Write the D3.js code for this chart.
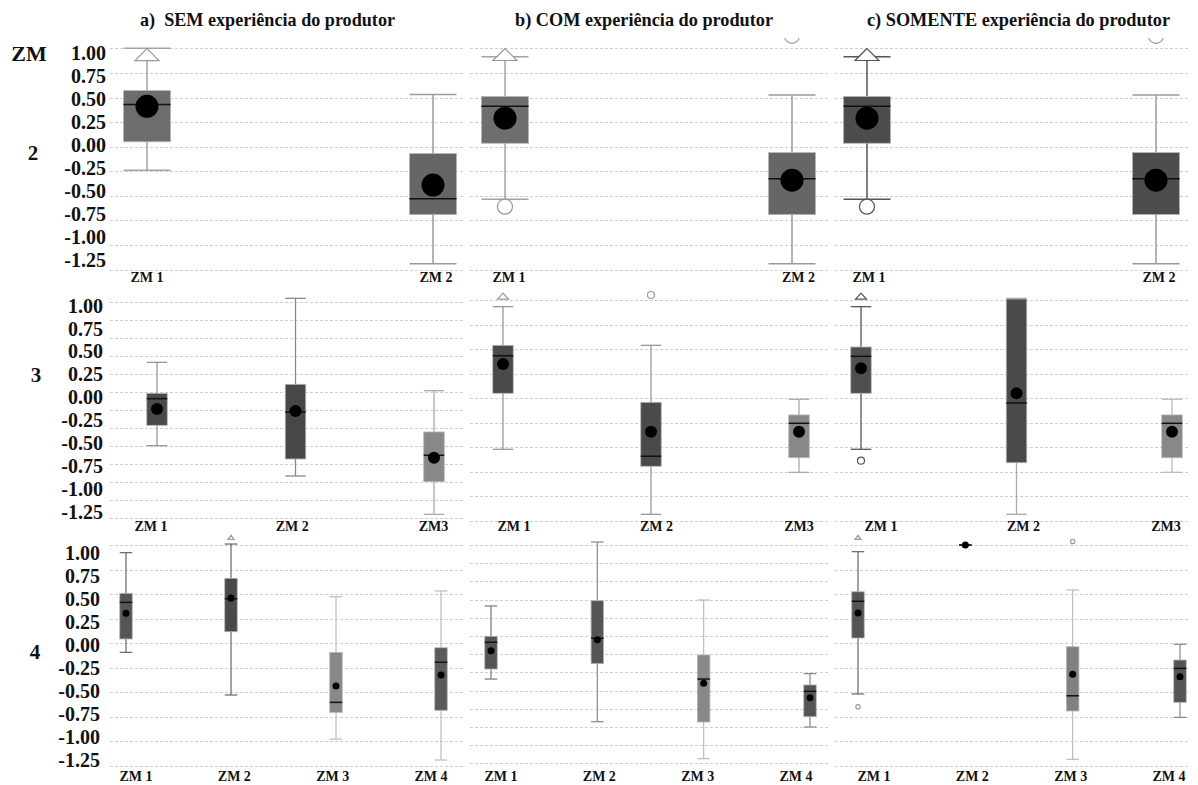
<!DOCTYPE html>
<html>
<head>
<meta charset="utf-8">
<script src="https://cdn.jsdelivr.net/npm/d3@7"></script>
<style>
  body { margin: 0; background: #ffffff; }
  svg { display: block; }
  text { font-family: "Liberation Serif", "Times New Roman", serif; font-weight: bold; fill: #111; }
  text.title { white-space: pre; }
</style>
</head>
<body>
<svg id="chart" width="1198" height="785"></svg>
<script>
// ---------------- categories and labels ----------------
const panelTitles = ["a)  SEM experiência do produtor", "b) COM experiência do produtor", "c) SOMENTE experiência do produtor"];
const rowHeader = "ZM";
const rowLabels = ["2", "3", "4"];
const yTickValues = [1.00, 0.75, 0.50, 0.25, 0.00, -0.25, -0.50, -0.75, -1.00, -1.25];
const gridQuarter = [1.00, 0.75, 0.50, 0.25, 0.00, -0.25, -0.50, -0.75, -1.00, -1.25];
const gridFifth = [1.0, 0.8, 0.6, 0.4, 0.2, 0.0, -0.2, -0.4, -0.6, -0.8, -1.0, -1.2, -1.4];
const zonesTwo = ["ZM 1", "ZM 2"];
const zonesThree = ["ZM 1", "ZM 2", "ZM3"];
const zonesFour = ["ZM 1", "ZM 2", "ZM 3", "ZM 4"];

// ---------------- box statistics ----------------
// each group: [lower whisker, Q1, median, Q3, upper whisker, mean]
const semZM2 = [[-0.24, 0.05, 0.43, 0.57, 1.00, 0.41], [-1.19, -0.69, -0.53, -0.07, 0.53, -0.39]];
const comZM2 = [[-0.535, 0.035, 0.41, 0.51, 0.915, 0.29], [-1.19, -0.69, -0.325, -0.06, 0.525, -0.34]];
const somZM2 = [[-0.535, 0.035, 0.41, 0.51, 0.915, 0.29], [-1.19, -0.69, -0.325, -0.06, 0.525, -0.34]];

const semZM3 = [[-0.593, -0.367, -0.071, -0.011, 0.333, -0.186], [-0.93, -0.741, -0.219, 0.089, 1.044, -0.208], [-1.356, -0.993, -0.70, -0.441, 0.018, -0.727]];
const comZM3 = [[-0.522, 0.049, 0.432, 0.538, 0.932, 0.348], [-1.185, -0.695, -0.593, -0.043, 0.538, -0.342], [-0.757, -0.608, -0.257, -0.172, -0.012, -0.342]];
const somZM3 = [[-0.522, 0.049, 0.426, 0.521, 0.932, 0.304], [-1.185, -0.659, -0.05, 1.01, 1.017, 0.049], [-0.757, -0.608, -0.257, -0.172, -0.012, -0.342]];

const semZM4 = [[-0.093, 0.043, 0.416, 0.508, 0.922, 0.304], [-0.527, 0.117, 0.453, 0.661, 1.01, 0.46], [-0.976, -0.704, -0.602, -0.093, 0.473, -0.436], [-1.189, -0.683, -0.194, -0.046, 0.532, -0.324]];
const comZM4 = [[-0.473, -0.363, -0.069, -0.003, 0.33, -0.162], [-0.942, -0.304, -0.025, 0.388, 1.033, -0.041], [-1.348, -0.945, -0.473, -0.209, 0.396, -0.52], [-1.0, -0.887, -0.608, -0.538, -0.414, -0.678]];
const somZM4 = [[-0.517, 0.053, 0.427, 0.524, 0.932, 0.308], [1.0, 1.0, 1.0, 1.0, 1.0, 1.0], [-1.182, -0.69, -0.535, -0.036, 0.542, -0.317], [-0.755, -0.602, -0.256, -0.171, -0.011, -0.341]];

// ---------------- outliers: [value, kind] ("extreme" = triangle, "outlier" = circle) ----------------
const semZM2Out = [[[0.935, "extreme"]], []];
const comZM2Out = [[[0.937, "extreme"], [-0.61, "outlier"]], [[1.127, "outlier"]]];
const somZM2Out = [[[0.937, "extreme"], [-0.61, "outlier"]], [[1.127, "outlier"]]];
const semZM3Out = [[], [], []];
const comZM3Out = [[[1.04, "extreme"]], [[1.051, "outlier"]], []];
const somZM3Out = [[[1.04, "extreme"], [-0.638, "outlier"]], [], []];
const semZM4Out = [[], [[1.078, "extreme"]], [], []];
const comZM4Out = [[], [], [], []];
const somZM4Out = [[[1.078, "extreme"], [-0.647, "outlier"]], [], [[1.036, "outlier"]], []];

// ---------------- styles ----------------
const boxFills = [
  [["#6d6d6d", "#666666"], ["#6e6e6e", "#666666"], ["#4d4d4d", "#4d4d4d"]],
  [["#4a4a4a", "#474747", "#888888"], ["#4a4a4a", "#4a4a4a", "#888888"], ["#4f4f4f", "#4a4a4a", "#888888"]],
  [["#555555", "#4a4a4a", "#888888", "#5a5a5a"], ["#555555", "#555555", "#888888", "#555555"], ["#555555", "#555555", "#808080", "#555555"]]
];
const whiskerColors = [
  [["#a3a3a3", "#9a9a9a"], ["#a3a3a3", "#9a9a9a"], ["#555555", "#9a9a9a"]],
  [["#999999", "#888888", "#aaaaaa"], ["#999999", "#999999", "#aaaaaa"], ["#555555", "#aaaaaa", "#bbbbbb"]],
  [["#666666", "#666666", "#bbbbbb", "#bbbbbb"], ["#777777", "#888888", "#bbbbbb", "#888888"], ["#666666", "#666666", "#bbbbbb", "#888888"]]
];

// ---------------- layout ----------------
const panelSpans = [[110, 465], [470, 830], [835, 1190]];
const titleCenters = [267.5, 644, 1018.5];
const titleWidths = [255, 258, 303];
const rowsLayout = [
  { clipTop: 38, clipBottom: 272, labelRange: [53, 260], labelRight: 106, xLabelY: 282, rowLabelY: 153, rowLabelX: 33,
    boxW: 47, meanR: 11.5, triW: 24, triH: 12, circR: 7.5, lw: 1.5,
    pointRanges: [[147, 433], [505, 792], [867, 1156]],
    labelRanges: [[147, 436], [509, 798.5], [869, 1159]],
    grids: [[gridQuarter, [48.3, 269.7]], [gridQuarter, [48.3, 269.7]], [gridQuarter, [48.3, 269.7]]] },
  { clipTop: 288, clipBottom: 520, labelRange: [305.7, 511.7], labelRight: 103, xLabelY: 531, rowLabelY: 375, rowLabelX: 36,
    boxW: 20.5, meanR: 6, triW: 11, triH: 6, circR: 3.5, lw: 1.3,
    pointRanges: [[157, 434], [503, 799], [861, 1172]],
    labelRanges: [[151, 433.5], [514, 799], [881, 1166]],
    grids: [[gridFifth, [302.3, 518.3]], [gridQuarter, [300, 520.7]], [gridQuarter, [300, 520.7]]] },
  { clipTop: 534, clipBottom: 768, labelRange: [552.7, 760], labelRight: 100, xLabelY: 781, rowLabelY: 652, rowLabelX: 35,
    boxW: 12.5, meanR: 3.5, triW: 6, triH: 4, circR: 2.2, lw: 1.2,
    pointRanges: [[126, 441], [491, 810], [858, 1180]],
    labelRanges: [[136, 431], [501, 796], [874, 1169]],
    grids: [[gridQuarter, [545, 766]], [gridFifth, [545, 763.4]], [gridQuarter, [545, 766]]] }
];

const rowCategories = [zonesTwo, zonesThree, zonesFour];
const panelStats = [[semZM2, comZM2, somZM2], [semZM3, comZM3, somZM3], [semZM4, comZM4, somZM4]];
const panelOutliers = [[semZM2Out, comZM2Out, somZM2Out], [semZM3Out, comZM3Out, somZM3Out], [semZM4Out, comZM4Out, somZM4Out]];

const svg = d3.select("#chart");
const defs = svg.append("defs");

// panel titles
svg.selectAll("text.title").data(panelTitles).join("text")
  .attr("class", "title")
  .attr("x", (d, i) => titleCenters[i])
  .attr("y", 26)
  .attr("text-anchor", "middle")
  .attr("textLength", (d, i) => titleWidths[i])
  .attr("lengthAdjust", "spacingAndGlyphs")
  .style("font-size", "19px")
  .text(d => d);

svg.append("text")
  .attr("x", 29).attr("y", 53.5)
  .attr("text-anchor", "middle").attr("dominant-baseline", "central")
  .style("font-size", "22px")
  .text(rowHeader);

function trianglePath(cx, cy, w, h) {
  const p = d3.path();
  p.moveTo(cx, cy - h / 2);
  p.lineTo(cx - w / 2, cy + h / 2);
  p.lineTo(cx + w / 2, cy + h / 2);
  p.closePath();
  return p.toString();
}

rowsLayout.forEach((L, r) => {
  // row label
  svg.append("text")
    .attr("x", L.rowLabelX).attr("y", L.rowLabelY)
    .attr("text-anchor", "middle").attr("dominant-baseline", "central")
    .style("font-size", "21px")
    .text(rowLabels[r]);

  // value labels on the left
  const labelScale = d3.scaleLinear().domain([1, -1.25]).range(L.labelRange);
  svg.append("g").selectAll("text").data(yTickValues).join("text")
    .attr("x", L.labelRight)
    .attr("y", d => labelScale(d))
    .attr("text-anchor", "end").attr("dominant-baseline", "central")
    .style("font-size", "20px")
    .text(d => d3.format(".2f")(d).replace("−", "-"));

  panelSpans.forEach((span, p) => {
    const [gridValues, gridRange] = L.grids[p];
    const y = d3.scaleLinear().domain([gridValues[0], gridValues[gridValues.length - 1]]).range(gridRange);
    const x = d3.scalePoint().domain(rowCategories[r]).range(L.pointRanges[p]);
    const xLabel = d3.scalePoint().domain(rowCategories[r]).range(L.labelRanges[p]);
    const g = svg.append("g");

    // dashed gridlines
    g.append("g").selectAll("line").data(gridValues).join("line")
      .attr("x1", span[0]).attr("x2", span[1])
      .attr("y1", d => Math.round(y(d)) + 0.5).attr("y2", d => Math.round(y(d)) + 0.5)
      .attr("stroke", "#cfcfcf").attr("stroke-width", 1).attr("stroke-dasharray", "3,2");

    const clipId = `clip-${r}-${p}`;
    defs.append("clipPath").attr("id", clipId).append("rect")
      .attr("x", span[0] - 5).attr("y", L.clipTop)
      .attr("width", span[1] - span[0] + 10).attr("height", L.clipBottom - L.clipTop);

    const plot = g.append("g").attr("clip-path", `url(#${clipId})`);
    const stats = panelStats[r][p];
    const outs = panelOutliers[r][p];

    stats.forEach((s, i) => {
      const [lo, q1, med, q3, hi, mean] = s;
      const cx = x(rowCategories[r][i]);
      const half = L.boxW / 2;
      const wc = whiskerColors[r][p][i];
      const markStroke = wc === "#555555" ? "#555555" : "#999999";
      const grp = plot.append("g");

      // whisker stem and caps
      grp.append("line").attr("x1", cx).attr("x2", cx).attr("y1", y(hi)).attr("y2", y(lo))
        .attr("stroke", wc).attr("stroke-width", L.lw);
      grp.selectAll("line.cap").data([lo, hi]).join("line").attr("class", "cap")
        .attr("x1", cx - half).attr("x2", cx + half)
        .attr("y1", d => y(d)).attr("y2", d => y(d))
        .attr("stroke", wc).attr("stroke-width", L.lw);

      // interquartile box
      grp.append("rect")
        .attr("x", cx - half).attr("width", L.boxW)
        .attr("y", y(q3)).attr("height", Math.max(0, y(q1) - y(q3)))
        .attr("fill", boxFills[r][p][i])
        .attr("stroke", q3 > q1 ? "#b5b5b5" : "none").attr("stroke-width", 0.8);

      // median
      grp.append("line").attr("x1", cx - half).attr("x2", cx + half)
        .attr("y1", y(med)).attr("y2", y(med))
        .attr("stroke", "#111").attr("stroke-width", 1.5);

      // outliers
      outs[i].forEach(([v, kind]) => {
        if (kind === "extreme") {
          grp.append("path").attr("d", trianglePath(cx, y(v), L.triW, L.triH))
            .attr("fill", "#ffffff").attr("stroke", markStroke).attr("stroke-width", 1.2);
        } else {
          grp.append("circle").attr("cx", cx).attr("cy", y(v)).attr("r", L.circR)
            .attr("fill", "#ffffff").attr("stroke", markStroke).attr("stroke-width", 1.2);
        }
      });

      // mean marker
      grp.append("circle").attr("cx", cx).attr("cy", y(mean)).attr("r", L.meanR).attr("fill", "#000");
    });

    // category labels
    g.append("g").selectAll("text").data(rowCategories[r]).join("text")
      .attr("x", d => xLabel(d))
      .attr("y", L.xLabelY)
      .attr("text-anchor", "middle")
      .style("font-size", "14px")
      .text(d => d);
  });
});
</script>
</body>
</html>
